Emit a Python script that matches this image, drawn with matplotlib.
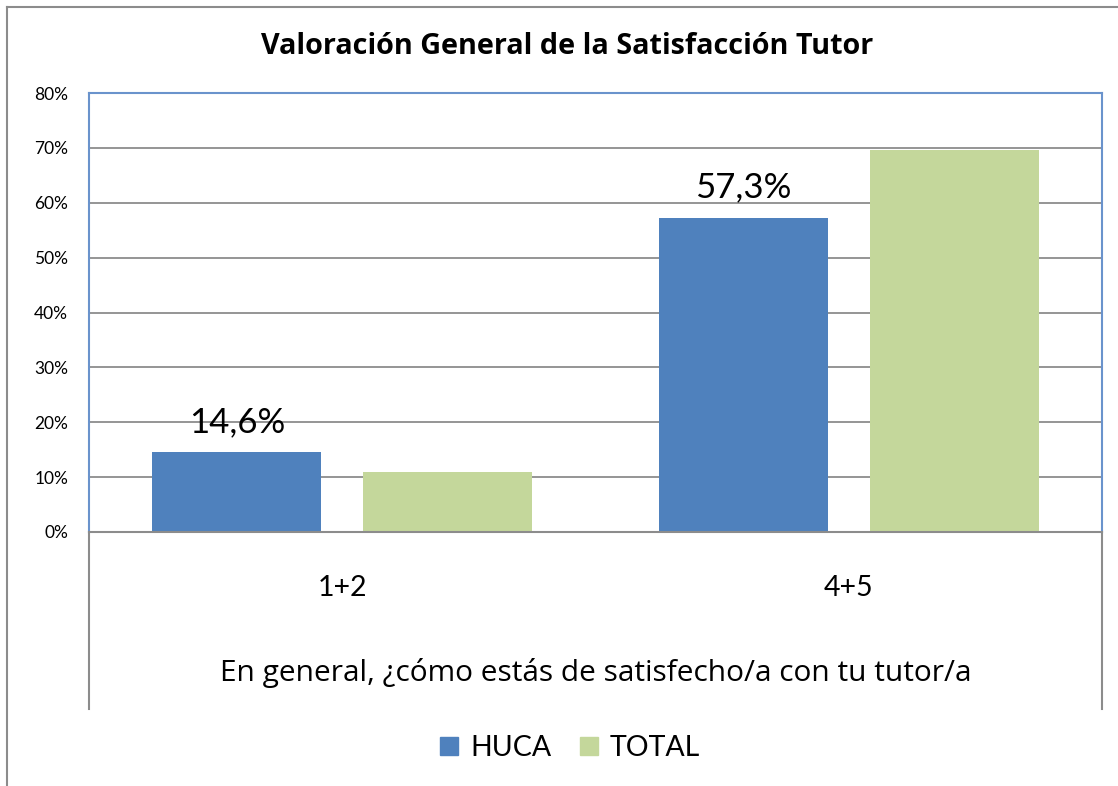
import matplotlib
matplotlib.use('Agg')
import matplotlib.pyplot as plt
import numpy as np
from matplotlib.patches import Patch
from matplotlib.lines import Line2D
from matplotlib.ticker import FuncFormatter

plt.rcParams['font.family'] = ['Lato', 'DejaVu Sans']

# data
categories = ['1+2', '4+5']
series = ['HUCA', 'TOTAL']
huca = [14.6, 57.3]
total = [10.9, 69.7]
huca_labels = ['14,6%', '57,3%']
yticks = [0, 10, 20, 30, 40, 50, 60, 70, 80]

title = 'Valoración General de la Satisfacción Tutor'
xtitle = 'En general, ¿cómo estás de satisfecho/a con tu tutor/a'

c_huca = '#4F81BD'
c_total = '#C4D79B'
c_border = '#6A93CC'
c_grid = '#8C8C8C'

W, H = 1118, 786
fig = plt.figure(figsize=(W / 100, H / 100), dpi=100)
ax = fig.add_axes([89 / W, 1 - 532 / H, (1102 - 89) / W, (532 - 93) / H])

x = np.arange(len(categories))
bw = 0.334
off = 0.208
b1 = ax.bar(x - off, huca, bw, color=c_huca, zorder=3)
b2 = ax.bar(x + off, total, bw, color=c_total, zorder=3)

for rect, lab in zip(b1, huca_labels):
    ax.annotate(lab, (rect.get_x() + rect.get_width() / 2, rect.get_height()),
                xytext=(0, 20), textcoords='offset pixels',
                ha='center', va='baseline', fontsize=25)

ax.set_xlim(-0.5, 1.5)
ax.set_ylim(0, 80)
ax.set_yticks(yticks)
ax.yaxis.set_major_formatter(FuncFormatter(lambda v, p: '%d%%' % v))
ax.tick_params(axis='y', length=0, pad=15, labelsize=12.5)
ax.set_xticks(x)
ax.set_xticklabels(categories)
ax.tick_params(axis='x', length=0, pad=31, labelsize=20.5)
ax.set_xlabel(xtitle, fontsize=21.5, labelpad=41, family=['Open Sans', 'DejaVu Sans'])

ax.grid(axis='y', color=c_grid, linewidth=1.3, zorder=0)
for s in ['left', 'top', 'right']:
    ax.spines[s].set_color(c_border)
    ax.spines[s].set_linewidth(1.5)
ax.spines['bottom'].set_color(c_grid)
ax.spines['bottom'].set_linewidth(1.5)
ax.spines['bottom'].set_zorder(4)

# gray lines framing the category area below the axis
lo = (532 - 709) / (532 - 93)
for xx in (0, 1):
    ax.add_line(Line2D([xx, xx], [lo, 0], transform=ax.transAxes,
                       color=c_grid, linewidth=1.5, clip_on=False))

fig.text(567 / W, 1 - 47 / H, title, ha='center', va='center',
         fontsize=20.7, fontweight='bold', family=['Open Sans', 'DejaVu Sans'])

handles = [Patch(color=c_huca), Patch(color=c_total)]
fig.legend(handles, series, loc='center', bbox_to_anchor=(570 / W, 1 - 748 / H),
           ncol=2, frameon=False, fontsize=20.5, handlelength=0.63,
           handleheight=0.63, handletextpad=0.42, columnspacing=1.0)

# outer chart frame (only top and left visible)
fig.add_artist(Line2D([7 / W, 1], [1 - 7 / H, 1 - 7 / H], transform=fig.transFigure,
                      color=c_grid, linewidth=1.5))
fig.add_artist(Line2D([7 / W, 7 / W], [0, 1 - 7 / H], transform=fig.transFigure,
                      color=c_grid, linewidth=1.5))

fig.savefig('out.png', dpi=100)
